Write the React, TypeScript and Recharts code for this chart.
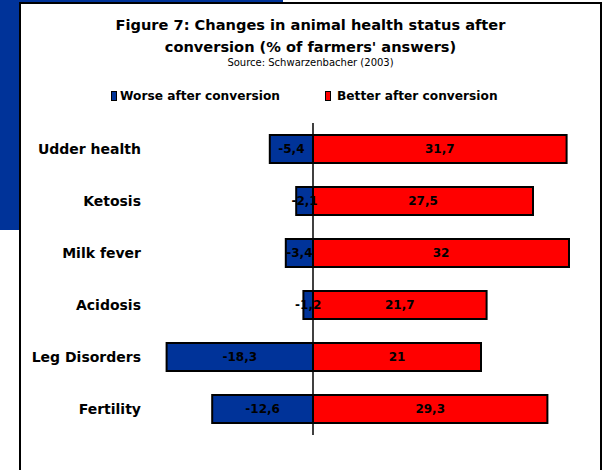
import React from "react";
import {
  BarChart,
  Bar,
  XAxis,
  YAxis,
  ReferenceLine,
  LabelList,
} from "recharts";

const BLUE = "#003399";
const RED = "#ff0000";
const FONT = "'DejaVu Sans', Verdana, sans-serif";

const categories = [
  "Udder health",
  "Ketosis",
  "Milk fever",
  "Acidosis",
  "Leg Disorders",
  "Fertility",
];
const worseValues = [-5.4, -2.1, -3.4, -1.2, -18.3, -12.6];
const betterValues = [31.7, 27.5, 32, 21.7, 21, 29.3];
const seriesNames = ["Worse after conversion", "Better after conversion"];

const data = categories.map((name, i) => ({
  name,
  worse: worseValues[i],
  better: betterValues[i],
}));

const fmt = (v: any) => String(v).replace(".", ",");

const labelStyle = {
  fill: "#000",
  fontSize: 12,
  fontWeight: 700,
  fontFamily: FONT,
};

const legendItems = [
  { left: 111, color: BLUE, text: seriesNames[0], gap: 3 },
  { left: 325, color: RED, text: seriesNames[1], gap: 6 },
];

export default function App() {
  return (
    <div
      style={{
        position: "absolute",
        left: 0,
        top: 0,
        width: 609,
        height: 470,
        overflow: "hidden",
        background: "#fff",
      }}
    >
      <div
        style={{
          position: "absolute",
          left: 0,
          top: 0,
          width: 283,
          height: 230,
          background: BLUE,
        }}
      />
      <div
        style={{
          position: "absolute",
          left: 19,
          top: 2,
          width: 579,
          height: 500,
          background: "#fff",
          border: "2px solid #000",
        }}
      />
      <div
        style={{
          position: "absolute",
          left: 19,
          top: 14,
          width: 583,
          textAlign: "center",
          fontFamily: FONT,
          color: "#000",
        }}
      >
        <div style={{ fontSize: 14.6, fontWeight: 700, lineHeight: "22px" }}>
          Figure 7: Changes in animal health status after
          <br />
          conversion (% of farmers' answers)
        </div>
        <div style={{ fontSize: 10, lineHeight: "11px", marginTop: -1 }}>
          Source: Schwarzenbacher (2003)
        </div>
      </div>
      {legendItems.map((it) => (
        <div
          key={it.text}
          style={{
            position: "absolute",
            left: it.left,
            top: 89,
            display: "flex",
            alignItems: "center",
            fontFamily: FONT,
            fontSize: 12.2,
            fontWeight: 700,
            color: "#000",
            whiteSpace: "nowrap",
          }}
        >
          <span
            style={{
              display: "inline-block",
              width: 4,
              height: 8,
              background: it.color,
              border: "1.5px solid #000",
              marginRight: it.gap,
            }}
          />
          {it.text}
        </div>
      ))}
      <div style={{ position: "absolute", left: 0, top: 0 }}>
        <BarChart
          width={609}
          height={470}
          layout="vertical"
          data={data}
          stackOffset="sign"
          barSize={28}
          margin={{ top: 123, right: 16, bottom: 35, left: 23 }}
        >
          <XAxis type="number" domain={[-20, 35]} hide />
          <YAxis
            type="category"
            dataKey="name"
            width={130}
            axisLine={false}
            tickLine={false}
            tickSize={0}
            tickMargin={12}
            tick={{
              fill: "#000",
              fontSize: 14,
              fontWeight: 700,
              fontFamily: FONT,
            }}
          />
          <Bar
            dataKey="worse"
            name={seriesNames[0]}
            stackId="a"
            fill={BLUE}
            stroke="#000"
            strokeWidth={2}
            isAnimationActive={false}
          >
            <LabelList
              dataKey="worse"
              position="center"
              formatter={fmt}
              style={labelStyle}
            />
          </Bar>
          <Bar
            dataKey="better"
            name={seriesNames[1]}
            stackId="a"
            fill={RED}
            stroke="#000"
            strokeWidth={2}
            isAnimationActive={false}
          >
            <LabelList
              dataKey="better"
              position="center"
              formatter={fmt}
              style={labelStyle}
            />
          </Bar>
          <ReferenceLine x={0} stroke="#000" strokeWidth={1.5} />
        </BarChart>
      </div>
    </div>
  );
}
